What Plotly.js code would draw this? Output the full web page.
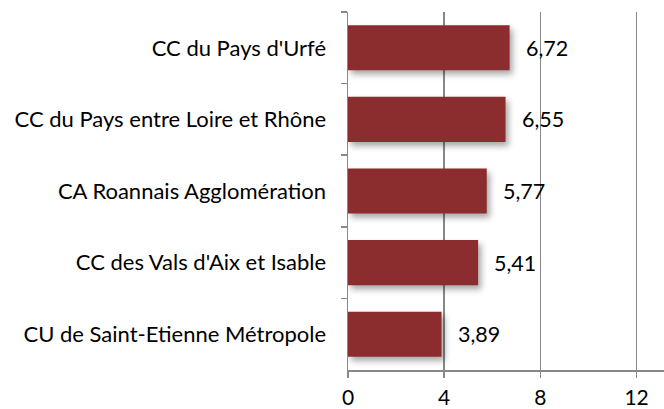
<!DOCTYPE html>
<html>
<head>
<meta charset="utf-8">
<script src="https://cdn.plot.ly/plotly-3.0.1.min.js"></script>
<style>
html, body { margin: 0; padding: 0; background: #fff; }
#chart { width: 664px; height: 409px; }
.trace.bars .point path { filter: drop-shadow(3px 4px 3px rgba(0,0,0,0.35)); }
</style>
</head>
<body>
<div id="chart"></div>
<script>
const categories = [
  "CC du Pays d'Urfé",
  "CC du Pays entre Loire et Rhône",
  "CA Roannais Agglomération",
  "CC des Vals d'Aix et Isable",
  "CU de Saint-Etienne Métropole"
];
const values = [6.72, 6.55, 5.77, 5.41, 3.89];
const xTicks = [0, 4, 8, 12];

const labels = values.map(v => v.toFixed(2).replace('.', ','));
const FONT = 'Lato, Carlito, Calibri, sans-serif';

const trace = {
  type: 'bar',
  orientation: 'h',
  x: values,
  y: categories,
  marker: { color: '#8B2C2F', line: { width: 0 } },
  hoverinfo: 'none'
};

const annotations = values.map((v, i) => ({
  x: v, y: categories[i], xref: 'x', yref: 'y',
  text: labels[i], showarrow: false, xanchor: 'left', yanchor: 'middle',
  xshift: 14,
  font: { family: FONT, size: 21.5, color: '#000' }
}));

const layout = {
  width: 664, height: 409,
  margin: { l: 348, r: 0, t: 12, b: 39 },
  paper_bgcolor: '#fff', plot_bgcolor: '#fff',
  showlegend: false,
  bargap: 0.37,
  font: { family: FONT, size: 21, color: '#000' },
  xaxis: {
    range: [0, 13.14],
    tickvals: xTicks,
    ticktext: xTicks.map(String),
    showgrid: true, gridcolor: '#888888', gridwidth: 1.5,
    zeroline: false,
    showline: true, linecolor: '#888888', linewidth: 1.5,
    ticks: 'outside', ticklen: 6, tickcolor: '#888888', tickwidth: 1.5,
    ticklabelstandoff: 2,
    tickfont: { family: FONT, size: 21, color: '#000' },
    fixedrange: true
  },
  yaxis: {
    type: 'category',
    autorange: 'reversed',
    showgrid: false, zeroline: false,
    showline: true, linecolor: '#888888', linewidth: 1.5,
    ticks: 'outside', tickson: 'boundaries', ticklen: 6, tickcolor: '#888888', tickwidth: 1.5,
    ticklabelstandoff: 16,
    tickfont: { family: FONT, size: 22, color: '#000' },
    fixedrange: true
  },
  annotations: annotations
};

Plotly.newPlot('chart', [trace], layout, { displayModeBar: false, staticPlot: true });
</script>
</body>
</html>
